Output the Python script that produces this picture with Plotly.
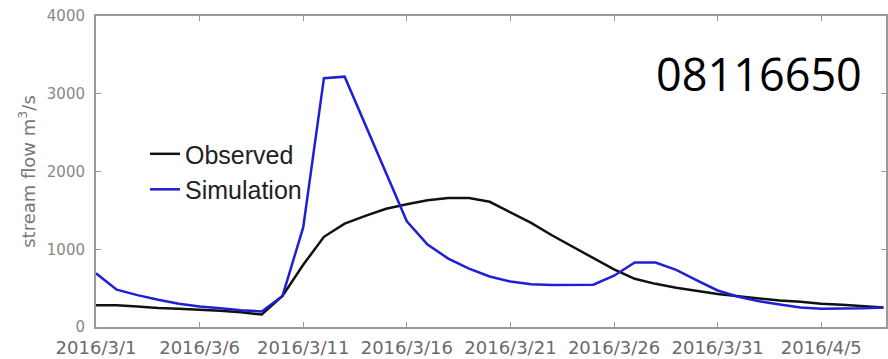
import plotly.graph_objects as go
import pandas as pd

dates = pd.date_range("2016-03-01", "2016-04-08", freq="D")

observed = [280, 280, 265, 245, 235, 225, 210, 190, 160, 400,
            800, 1160, 1330, 1430, 1520, 1580, 1630, 1660, 1660, 1610,
            1480, 1340, 1180, 1030, 880, 740, 620, 555, 505, 465,
            425, 395, 365, 340, 325, 300, 285, 265, 250]

simulation = [690, 480, 410, 350, 300, 265, 240, 215, 200, 400,
              1280, 3200, 3220, 2600, 1990, 1360, 1060, 880, 750, 650,
              585, 550, 540, 540, 545, 660, 830, 830, 735, 600,
              470, 390, 330, 290, 250, 235, 235, 240, 250]

tick_dates = ["2016-03-01", "2016-03-06", "2016-03-11", "2016-03-16",
              "2016-03-21", "2016-03-26", "2016-03-31", "2016-04-05"]
tick_labels = ["2016/3/1", "2016/3/6", "2016/3/11", "2016/3/16",
               "2016/3/21", "2016/3/26", "2016/3/31", "2016/4/5"]

y_ticks = [0, 1000, 2000, 3000, 4000]
station = "08116650"

fig = go.Figure()
fig.add_trace(go.Scatter(x=dates, y=observed, name="Observed", mode="lines",
                         line=dict(color="#111111", width=2.5)))
fig.add_trace(go.Scatter(x=dates, y=simulation, name="Simulation", mode="lines",
                         line=dict(color="#1f1fd6", width=2.5)))

axis_col = "#9a9a9a"
fig.update_layout(
    width=888, height=359,
    margin=dict(l=96, r=2, t=16, b=32),
    paper_bgcolor="white", plot_bgcolor="white",
    showlegend=True,
    legend=dict(x=0.062, y=0.63, xanchor="left", yanchor="top",
                bgcolor="rgba(0,0,0,0)",
                font=dict(family="Liberation Sans", size=25, color="#222222"),
                tracegroupgap=0),
    annotations=[dict(text=station, xref="paper", yref="paper",
                      x=0.972, y=0.815, xanchor="right", yanchor="middle",
                      showarrow=False,
                      font=dict(family="Open Sans", size=45, color="#000000"))],
)
fig.update_xaxes(
    range=["2016-03-01", "2016-04-08 03:00"],
    tickvals=tick_dates, ticktext=tick_labels, tickangle=0,
    ticks="inside", ticklen=5, tickcolor=axis_col,
    showline=True, linecolor=axis_col, linewidth=2, mirror="ticks",
    showgrid=False, zeroline=False, automargin=False, ticklabelstandoff=3,
    tickfont=dict(family="DejaVu Sans", size=18, color="#6a6a6a"),
)
fig.update_yaxes(
    range=[0, 4000], tickvals=y_ticks,
    ticks="inside", ticklen=5, tickcolor=axis_col,
    showline=True, linecolor=axis_col, linewidth=2, mirror="ticks",
    showgrid=False, zeroline=False, ticklabelstandoff=6, automargin=False,
    tickfont=dict(family="DejaVu Sans", size=15, color="#888888"),
    title=dict(text="stream flow m<sup>3</sup>/s", standoff=7,
               font=dict(family="DejaVu Sans", size=18, color="#777777")),
)

fig.write_html("out.html")
